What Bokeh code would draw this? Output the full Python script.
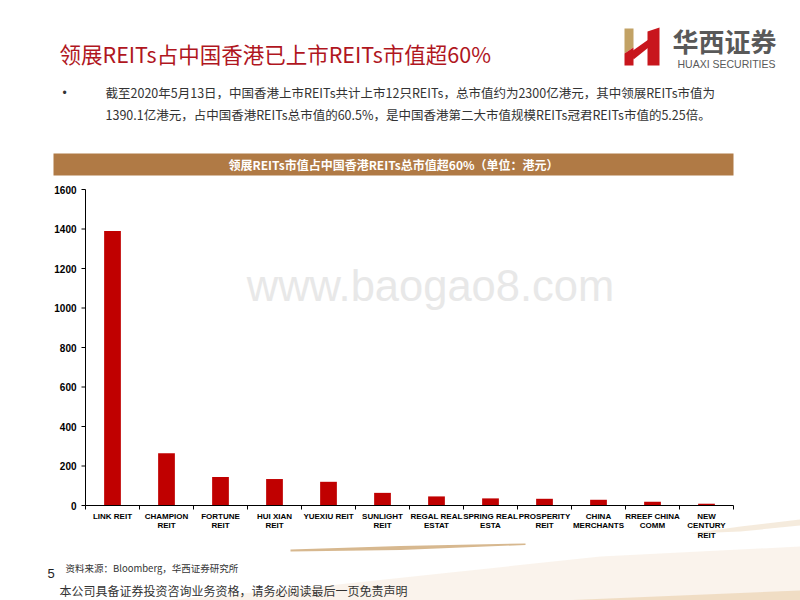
from bokeh.plotting import figure
from bokeh.models import Range1d
from bokeh.core.properties import value
from bokeh.embed import file_html
from bokeh.resources import INLINE

# ---- data ----
categories = ["LINK REIT", "CHAMPION\nREIT", "FORTUNE\nREIT", "HUI XIAN\nREIT",
              "YUEXIU REIT", "SUNLIGHT\nREIT", "REGAL REAL\nESTAT", "SPRING REAL\nESTA",
              "PROSPERITY\nREIT", "CHINA\nMERCHANTS", "RREEF CHINA\nCOMM", "NEW\nCENTURY\nREIT"]
market_cap = [1390.1, 264, 144, 134, 120, 64, 46, 36, 34, 29, 19, 9]
y_ticks = [0, 200, 400, 600, 800, 1000, 1200, 1400, 1600]

title_text = "领展REITs占中国香港已上市REITs市值超60%"
bullet_1 = "截至2020年5月13日，中国香港上市REITs共计上市12只REITs，总市值约为2300亿港元，其中领展REITs市值为"
bullet_2 = "1390.1亿港元，占中国香港REITs总市值的60.5%，是中国香港第二大市值规模REITs冠君REITs市值的5.25倍。"
banner_text = "领展REITs市值占中国香港REITs总市值超60%（单位：港元）"
source_text = "资料来源：Bloomberg，华西证券研究所"
disclaimer = "本公司具备证券投资咨询业务资格，请务必阅读最后一页免责声明"

# ---- page geometry (pixels) ----
PW, PH = 800, 600
FL, FT, FR, FB = 85, 189, 733, 505      # plot area of the chart
Y_MAX = y_ticks[-1]
CJK = "Noto Sans CJK SC"

n = len(categories)
ux = (FR - FL) / n                     # px per category
uy = (FB - FT) / Y_MAX                 # px per value unit

p = figure(width=PW, height=PH, output_backend="svg", toolbar_location=None,
           x_range=Range1d(0, PW), y_range=Range1d(PH, 0),
           x_axis_location=None, y_axis_location=None,
           min_border=0, min_border_left=0, min_border_right=0,
           min_border_top=0, min_border_bottom=0)
p.outline_line_color = None
p.grid.grid_line_color = None
p.background_fill_color = "white"
p.border_fill_color = "white"
# chart scales: category index and market value
p.extra_x_ranges = {"cat": Range1d(-FL / ux, (PW - FL) / ux)}
p.extra_y_ranges = {"val": Range1d(-(PH - FB) / uy, FB / uy)}


def txt(x, y, text, size, color, font=CJK, style="normal", align="left",
        baseline="middle", **kw):
    p.text(x=x if isinstance(x, list) else [x], y=y if isinstance(y, list) else [y],
           text=text if isinstance(text, list) else [text],
           text_font=value(font), text_font_size=size,
           text_color=color, text_font_style=style, text_align=align,
           text_baseline=baseline, **kw)


def poly(pts, color, alpha=1.0):
    p.patch(x=[a for a, b in pts], y=[b for a, b in pts], fill_color=color,
            fill_alpha=alpha, line_color=None)


# decorative swooshes (footer background)
poly([(160, 600), (300, 588), (450, 572), (600, 556), (800, 546), (800, 600)], "#F5EADC", 0.55)
poly([(290, 549), (400, 545.5), (525, 543), (525, 544.5), (400, 549.5), (290, 551)], "#C9A06A", 0.75)
poly([(690, 533), (740, 526), (800, 519), (800, 525), (740, 531)], "#F3E6D4", 0.8)
poly([(560, 600), (680, 595), (800, 590), (800, 600)], "#E9CFAA", 0.6)

# ===== header =====
txt(59, 53, title_text, "21.5px", "#B0161E")

# logo
poly([(624, 28), (633, 28), (633, 47), (624, 53)], "#C2A265")
poly([(624, 53), (633, 47), (633, 65), (624, 65)], "#C8161D")
poly([(631, 51), (648, 39), (648, 47), (633, 59)], "#C8161D")
poly([(647, 31), (659, 27), (659, 65), (647, 65)], "#C8161D")
txt(672, 40, "华西证券", "26px", "#595959", style="bold")
txt(677, 63, "HUAXI SECURITIES", "10.5px", "#595959", font="Liberation Sans")

# bullets
txt(62, 92, "•", "12px", "#333333", font="Liberation Sans")
txt(105, 92, bullet_1, "12.5px", "#333333")
txt(105, 114, bullet_2, "12.5px", "#333333")

# banner
poly([(53, 153), (733, 153), (733, 175), (53, 175)], "#B07A45")
txt(393, 164, banner_text, "12px", "white", style="bold", align="center")

# ===== chart =====
# watermark
txt(430, 285, "www.baogao8.com", "43.5px", "#E8E8E8", font="Liberation Sans", align="center")

centers = [i + 0.5 for i in range(n)]
bounds = list(range(n + 1))

p.vbar(x=centers, top=market_cap, width=0.31, fill_color="#C00000", line_color=None,
       x_range_name="cat", y_range_name="val")

# y axis
p.segment(x0=[0], y0=[0], x1=[0], y1=[Y_MAX], line_color="black", line_width=1,
          x_range_name="cat", y_range_name="val")
p.segment(x0=[FL - 4] * len(y_ticks), y0=y_ticks, x1=[FL] * len(y_ticks), y1=y_ticks,
          line_color="black", line_width=1, y_range_name="val")
txt([FL - 9] * len(y_ticks), y_ticks, [str(v) for v in y_ticks], "10px", "black",
    font="Liberation Sans", style="bold", align="right", y_range_name="val")

# x axis
p.segment(x0=[0], y0=[0], x1=[n], y1=[0], line_color="black", line_width=1,
          x_range_name="cat", y_range_name="val")
p.segment(x0=bounds, y0=[FB] * len(bounds), x1=bounds, y1=[FB + 4] * len(bounds),
          line_color="black", line_width=1, x_range_name="cat")
txt(centers, [FB + 6] * n, categories, "8px", "black", font="Liberation Sans",
    style="bold", align="center", baseline="top", text_line_height=1.1,
    x_range_name="cat")

# ===== footer =====
txt(47, 573, "5", "13px", "#222222", font="Liberation Sans")
txt(65, 567, source_text, "9.5px", "#333333")
txt(59, 590, disclaimer, "12px", "#333333")

open("out.html", "w").write(file_html(p, INLINE))
